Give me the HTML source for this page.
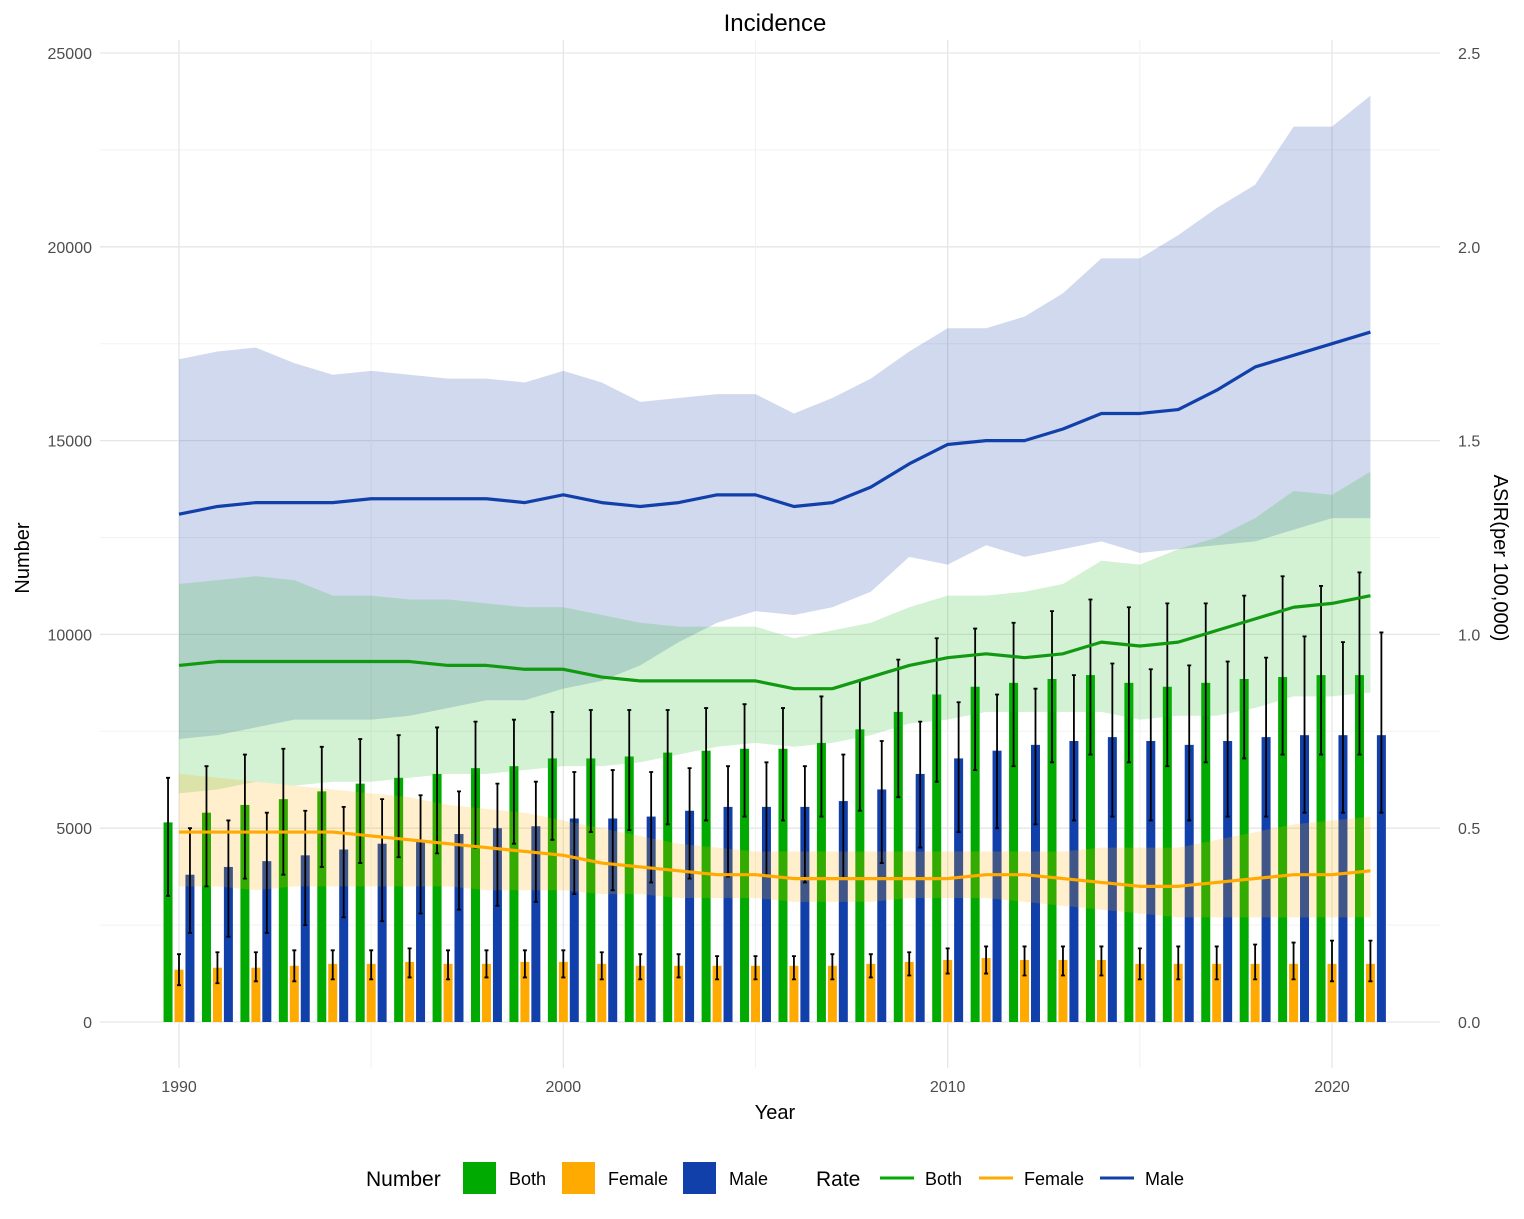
<!DOCTYPE html>
<html><head><meta charset="utf-8"><style>
body{margin:0;background:#fff;}
svg{display:block;font-family:"Liberation Sans",Arial,sans-serif;}
</style></head><body>
<svg id="chart" width="1524" height="1219" viewBox="0 0 1524 1219" xmlns="http://www.w3.org/2000/svg">
<rect width="1524" height="1219" fill="#fff"/>
<g id="grid"></g>
<g id="bars"></g>
<g id="bands"></g>
<g id="errs"></g>
<g id="lines"></g>
<g id="axes"></g>
<text x="775" y="31" text-anchor="middle" font-size="24" fill="#000">Incidence</text>
<text x="775" y="1119" text-anchor="middle" font-size="20" fill="#000">Year</text>
<text transform="translate(29,558) rotate(-90)" text-anchor="middle" font-size="20" fill="#000">Number</text>
<text transform="translate(1494,558) rotate(90)" text-anchor="middle" font-size="20" fill="#000">ASIR(per 100,000)</text>
<g font-size="18" fill="#000">
  <text x="366" y="1186" font-size="21">Number</text>
  <rect x="463" y="1162" width="33" height="32" fill="#00aa00"/>
  <text x="509" y="1185">Both</text>
  <rect x="562" y="1162" width="33" height="32" fill="#ffaa00"/>
  <text x="608" y="1185">Female</text>
  <rect x="683" y="1162" width="33" height="32" fill="#1240aa"/>
  <text x="729" y="1185">Male</text>
  <text x="816" y="1186" font-size="21">Rate</text>
  <line x1="880" y1="1178" x2="914" y2="1178" stroke="#00aa00" stroke-width="3"/>
  <text x="925" y="1185">Both</text>
  <line x1="979" y1="1178" x2="1013" y2="1178" stroke="#ffaa00" stroke-width="3"/>
  <text x="1024" y="1185">Female</text>
  <line x1="1100" y1="1178" x2="1134" y2="1178" stroke="#1240aa" stroke-width="3"/>
  <text x="1145" y="1185">Male</text>
</g>
</svg>
<script>
const years=[1990,1991,1992,1993,1994,1995,1996,1997,1998,1999,2000,2001,2002,2003,2004,2005,2006,2007,2008,2009,2010,2011,2012,2013,2014,2015,2016,2017,2018,2019,2020,2021];
const bothNum=[5150,5400,5600,5750,5950,6150,6300,6400,6550,6600,6800,6800,6850,6950,7000,7050,7050,7200,7550,8000,8450,8650,8750,8850,8950,8750,8650,8750,8850,8900,8950,8950];
const bothNumLo=[3250,3500,3700,3800,4000,4100,4250,4350,4500,4600,4700,4900,4950,5100,5200,5300,5200,5300,5450,5800,6200,6500,6600,6700,6900,6700,6600,6700,6800,6900,6900,6900];
const bothNumHi=[6300,6600,6900,7050,7100,7300,7400,7600,7750,7800,8000,8050,8050,8050,8100,8200,8100,8400,8800,9350,9900,10150,10300,10600,10900,10700,10800,10800,11000,11500,11250,11600];
const femNum=[1350,1400,1400,1450,1500,1500,1550,1500,1500,1550,1550,1500,1450,1450,1450,1450,1450,1450,1500,1550,1600,1650,1600,1600,1600,1500,1500,1500,1500,1500,1500,1500];
const femNumLo=[950,1000,1050,1050,1100,1100,1150,1100,1150,1150,1150,1100,1100,1150,1100,1100,1100,1100,1150,1200,1250,1250,1200,1200,1200,1100,1100,1100,1100,1100,1050,1050];
const femNumHi=[1750,1800,1800,1850,1850,1850,1900,1850,1850,1850,1850,1800,1750,1750,1700,1700,1700,1750,1750,1800,1900,1950,1950,1950,1950,1900,1950,1950,2000,2050,2100,2100];
const maleNum=[3800,4000,4150,4300,4450,4600,4700,4850,5000,5050,5250,5250,5300,5450,5550,5550,5550,5700,6000,6400,6800,7000,7150,7250,7350,7250,7150,7250,7350,7400,7400,7400];
const maleNumLo=[2300,2200,2300,2500,2700,2600,2800,2900,3000,3100,3300,3400,3600,3700,3750,3750,3600,3700,4100,4500,4900,5000,5100,5200,5300,5200,5200,5300,5300,5400,5400,5400];
const maleNumHi=[5000,5200,5400,5450,5550,5750,5850,5950,6150,6200,6450,6500,6450,6550,6600,6700,6600,6900,7250,7750,8250,8450,8600,8950,9250,9100,9200,9300,9400,9950,9800,10050];
const bothRate=[0.92,0.93,0.93,0.93,0.93,0.93,0.93,0.92,0.92,0.91,0.91,0.89,0.88,0.88,0.88,0.88,0.86,0.86,0.89,0.92,0.94,0.95,0.94,0.95,0.98,0.97,0.98,1.01,1.04,1.07,1.08,1.10];
const bothRateLo=[0.59,0.60,0.62,0.61,0.62,0.62,0.63,0.64,0.64,0.65,0.66,0.66,0.67,0.69,0.71,0.72,0.71,0.72,0.74,0.77,0.78,0.80,0.80,0.80,0.80,0.78,0.79,0.79,0.81,0.84,0.84,0.85];
const bothRateHi=[1.13,1.14,1.15,1.14,1.10,1.10,1.09,1.09,1.08,1.07,1.07,1.05,1.03,1.02,1.02,1.02,0.99,1.01,1.03,1.07,1.10,1.10,1.11,1.13,1.19,1.18,1.22,1.25,1.30,1.37,1.36,1.42];
const femRate=[0.49,0.49,0.49,0.49,0.49,0.48,0.47,0.46,0.45,0.44,0.43,0.41,0.40,0.39,0.38,0.38,0.37,0.37,0.37,0.37,0.37,0.38,0.38,0.37,0.36,0.35,0.35,0.36,0.37,0.38,0.38,0.39];
const femRateLo=[0.35,0.35,0.34,0.35,0.35,0.35,0.35,0.35,0.34,0.34,0.34,0.33,0.33,0.32,0.32,0.32,0.31,0.31,0.31,0.32,0.32,0.32,0.31,0.30,0.29,0.28,0.27,0.27,0.27,0.27,0.27,0.27];
const femRateHi=[0.64,0.63,0.62,0.61,0.60,0.59,0.58,0.56,0.55,0.54,0.52,0.50,0.48,0.46,0.45,0.44,0.44,0.44,0.44,0.44,0.44,0.44,0.44,0.44,0.45,0.45,0.45,0.47,0.49,0.51,0.52,0.53];
const maleRate=[1.31,1.33,1.34,1.34,1.34,1.35,1.35,1.35,1.35,1.34,1.36,1.34,1.33,1.34,1.36,1.36,1.33,1.34,1.38,1.44,1.49,1.50,1.50,1.53,1.57,1.57,1.58,1.63,1.69,1.72,1.75,1.78];
const maleRateLo=[0.73,0.74,0.76,0.78,0.78,0.78,0.79,0.81,0.83,0.83,0.86,0.88,0.92,0.98,1.03,1.06,1.05,1.07,1.11,1.20,1.18,1.23,1.20,1.22,1.24,1.21,1.22,1.23,1.24,1.27,1.30,1.30];
const maleRateHi=[1.71,1.73,1.74,1.70,1.67,1.68,1.67,1.66,1.66,1.65,1.68,1.65,1.60,1.61,1.62,1.62,1.57,1.61,1.66,1.73,1.79,1.79,1.82,1.88,1.97,1.97,2.03,2.10,2.16,2.31,2.31,2.39];
const yTicks=[0,5000,10000,15000,20000,25000];
const y2Ticks=["0.0","0.5","1.0","1.5","2.0","2.5"];
const xTicks=[1990,2000,2010,2020];

const NS="http://www.w3.org/2000/svg";
const X=y=>179+(y-1990)*(1332-179)/30;
const Y=v=>1022-v*(1022-53)/25000;
const Y2=v=>1022-v*(1022-53)/2.5;
function mk(tag,attrs,parent){const e=document.createElementNS(NS,tag);for(const k in attrs)e.setAttribute(k,attrs[k]);document.getElementById(parent).appendChild(e);return e;}

// grid
for(let i=0;i<=10;i++){const v=i*2500;const l=mk('line',{x1:100,x2:1440,y1:Y(v),y2:Y(v),stroke:i%2?'#f2f2f2':'#e6e6e6','stroke-width':i%2?1:1.3},'grid');

}
for(let yr=1990;yr<=2020;yr+=5){const l=mk('line',{x1:X(yr),x2:X(yr),y1:40,y2:1068,stroke:yr%10?'#f2f2f2':'#e6e6e6','stroke-width':yr%10?1:1.3},'grid');

}
// tick labels
yTicks.forEach((v,i)=>{const t=mk('text',{x:92,y:Y(v)+6,'text-anchor':'end','font-size':16,fill:'#4d4d4d'},'axes');t.textContent=v;


const t2=mk('text',{x:1458,y:Y(v)+6,'font-size':16,fill:'#4d4d4d'},'axes');t2.textContent=y2Ticks[i];

});
xTicks.forEach(v=>{const t=mk('text',{x:X(v),y:1092,'text-anchor':'middle','font-size':16,fill:'#4d4d4d'},'axes');t.textContent=v;

});

// bars
const off=0.285, bw=9;
const groups=[[bothNum,bothNumLo,bothNumHi,-off,'#00aa00','both'],[femNum,femNumLo,femNumHi,0,'#ffaa00','female'],[maleNum,maleNumLo,maleNumHi,off,'#1240aa','male']];
groups.forEach(([vals,lo,hi,o,col,nm])=>{
  years.forEach((yr,i)=>{
    const cx=X(yr+o);
    const r=mk('rect',{x:cx-bw/2,y:Y(vals[i]),width:bw,height:Y(0)-Y(vals[i]),fill:col},'bars');
    
    
    const p=mk('path',{d:`M${cx},${Y(lo[i])}V${Y(hi[i])}M${cx-2},${Y(lo[i])}H${cx+2}M${cx-2},${Y(hi[i])}H${cx+2}`,stroke:'#000','stroke-width':1.8,fill:'none'},'errs');
    
    
  });
});

// bands and lines
const rates=[[maleRate,maleRateLo,maleRateHi,'#1a3fa8','male'],[bothRate,bothRateLo,bothRateHi,'#22bb22','both'],[femRate,femRateLo,femRateHi,'#ffb000','female']];
rates.forEach(([v,lo,hi,col,nm])=>{
  let d='M'+years.map((yr,i)=>X(yr)+','+Y2(hi[i])).join('L');
  d+='L'+years.slice().reverse().map((yr,k)=>{const i=years.length-1-k;return X(yr)+','+Y2(lo[i]);}).join('L')+'Z';
  const b=mk('path',{d,fill:col,'fill-opacity':nm==='male'?0.2:0.2},'bands');
  
  
});
[[maleRate,'#1240aa','male'],[bothRate,'#119911','both'],[femRate,'#ffaa00','female']].forEach(([v,col,nm])=>{
  const d='M'+years.map((yr,i)=>X(yr)+','+Y2(v[i])).join('L');
  const l=mk('path',{d,fill:'none',stroke:col,'stroke-width':3.2,'stroke-linejoin':'round'},'lines');
  
  
});
</script>
</body></html>
